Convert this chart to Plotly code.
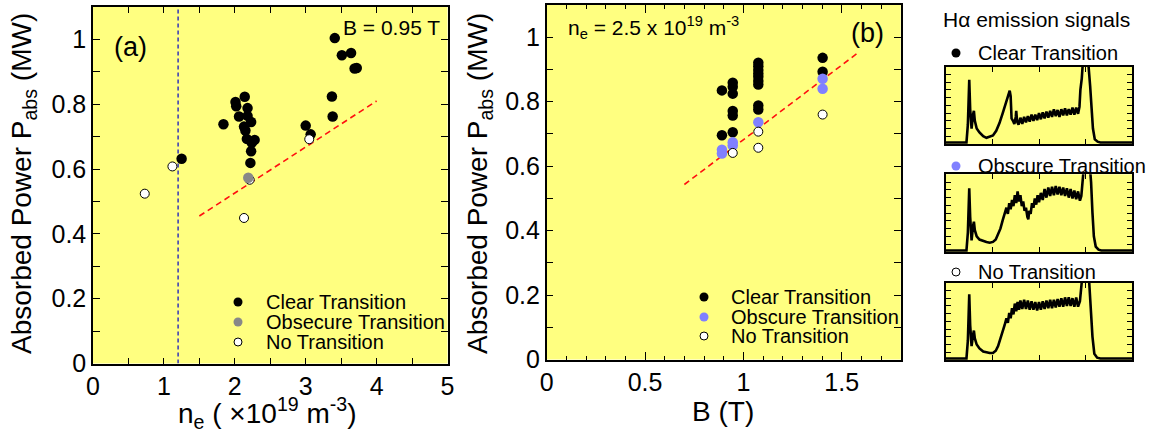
import plotly.graph_objects as go

W, H = 1149, 432
FONT = "Liberation Sans, Arial, sans-serif"
YEL = "#ffff80"

# ---------------- panel (a): P_abs vs n_e, B = 0.95 T ----------------
a_clear_x = [3.41, 3.51, 3.64, 3.69, 3.72, 3.37, 3.38, 3.00, 3.07, 1.84, 2.01, 2.02, 2.14,
             2.18, 2.06, 2.18, 2.23, 2.13, 2.15, 2.17, 2.28, 2.24, 2.23, 2.22, 1.25]
a_clear_y = [1.004, 0.951, 0.958, 0.910, 0.912, 0.824, 0.762, 0.734, 0.707, 0.738, 0.807, 0.794, 0.823,
             0.788, 0.762, 0.764, 0.745, 0.731, 0.719, 0.693, 0.690, 0.681, 0.655, 0.619, 0.632]
a_obs_x = [2.19]
a_obs_y = [0.573]
a_no_x = [3.05, 2.21, 1.12, 0.73, 2.13]
a_no_y = [0.692, 0.567, 0.608, 0.524, 0.449]
a_fit_x = [1.5, 4.0]
a_fit_y = [0.455, 0.81]
a_cut_x = [1.2, 1.2]
a_cut_y = [0.0, 1.1]

# ---------------- panel (b): P_abs vs B, n_e = 2.5e19 ----------------
b_clear_x = [0.891, 0.891, 0.946, 0.946, 0.946, 0.946, 0.946, 0.946, 1.076, 1.076, 1.076, 1.076,
             1.076, 1.076, 1.076, 1.076, 1.076, 1.403, 1.403]
b_clear_y = [0.835, 0.696, 0.859, 0.846, 0.825, 0.771, 0.757, 0.705, 0.921, 0.910, 0.898, 0.887,
             0.877, 0.864, 0.853, 0.788, 0.776, 0.936, 0.893]
b_obs_x = [0.891, 0.891, 0.946, 0.946, 1.076, 1.403, 1.403]
b_obs_y = [0.651, 0.639, 0.674, 0.664, 0.736, 0.871, 0.840]
b_no_x = [0.946, 1.076, 1.076, 1.403]
b_no_y = [0.641, 0.707, 0.657, 0.760]
b_fit_x = [0.70, 1.59]
b_fit_y = [0.543, 0.955]

# ---------------- H-alpha emission signals ----------------
c_t = [0.00, 0.44, 0.47, 0.50, 0.52, 0.55, 0.58, 0.60, 0.62, 0.66, 0.72, 0.80, 0.87, 0.94, 1.01,
       1.08, 1.15, 1.22, 1.28, 1.33, 1.37, 1.39, 1.41, 1.44, 1.47, 1.50, 1.51, 1.53, 1.56, 1.60,
       1.64, 1.68, 1.72, 1.76, 1.80, 1.84, 1.88, 1.92, 1.96, 2.00, 2.04, 2.08, 2.12, 2.16, 2.20,
       2.24, 2.28, 2.32, 2.36, 2.40, 2.44, 2.48, 2.52, 2.56, 2.60, 2.64, 2.68, 2.72, 2.76, 2.80,
       2.84, 2.87, 2.89, 2.92, 2.94, 2.96, 3.02, 3.06, 3.10, 3.13, 3.16, 3.20, 3.26, 3.32, 4.00]
c_y = [0.02, 0.02, 0.25, 0.83, 0.45, 0.20, 0.38, 0.43, 0.30, 0.20, 0.15, 0.10, 0.08, 0.09, 0.11,
       0.17, 0.27, 0.40, 0.52, 0.60, 0.69, 0.62, 0.33, 0.30, 0.26, 0.35, 0.43, 0.29, 0.25, 0.34,
       0.26, 0.35, 0.28, 0.36, 0.29, 0.38, 0.30, 0.38, 0.31, 0.40, 0.32, 0.41, 0.33, 0.42, 0.34,
       0.43, 0.35, 0.45, 0.36, 0.44, 0.35, 0.45, 0.37, 0.46, 0.37, 0.45, 0.38, 0.47, 0.38, 0.47,
       0.39, 0.48, 0.70, 0.85, 1.05, 1.20, 1.20, 1.05, 0.75, 0.45, 0.20, 0.06, 0.03, 0.02, 0.02]

o_t = [0.00, 0.44, 0.47, 0.50, 0.52, 0.55, 0.58, 0.60, 0.62, 0.66, 0.72, 0.80, 0.87, 0.94, 1.01,
       1.07, 1.12, 1.17, 1.22, 1.26, 1.30, 1.33, 1.36, 1.39, 1.42, 1.45, 1.48, 1.51, 1.54, 1.57,
       1.60, 1.63, 1.66, 1.69, 1.72, 1.75, 1.77, 1.79, 1.82, 1.85, 1.88, 1.91, 1.94, 1.97, 2.00,
       2.04, 2.08, 2.12, 2.16, 2.20, 2.24, 2.28, 2.32, 2.36, 2.40, 2.44, 2.48, 2.52, 2.56, 2.60,
       2.64, 2.68, 2.72, 2.76, 2.80, 2.84, 2.88, 2.91, 2.93, 2.95, 2.98, 3.08, 3.12, 3.15, 3.18,
       3.22, 3.28, 3.34, 4.00]
o_y = [0.02, 0.02, 0.25, 0.82, 0.45, 0.15, 0.33, 0.39, 0.28, 0.20, 0.16, 0.14, 0.13, 0.12, 0.13,
       0.16, 0.22, 0.30, 0.41, 0.48, 0.57, 0.49, 0.63, 0.55, 0.67, 0.59, 0.73, 0.63, 0.78, 0.65,
       0.73, 0.59, 0.65, 0.53, 0.57, 0.45, 0.42, 0.53, 0.49, 0.63, 0.57, 0.69, 0.61, 0.73, 0.64,
       0.76, 0.67, 0.81, 0.70, 0.83, 0.72, 0.84, 0.73, 0.85, 0.74, 0.84, 0.73, 0.83, 0.72, 0.82,
       0.70, 0.81, 0.69, 0.79, 0.68, 0.78, 0.66, 0.72, 0.90, 1.05, 1.20, 1.20, 0.90, 0.50, 0.20,
       0.07, 0.03, 0.02, 0.02]

n_t = [0.00, 0.44, 0.47, 0.50, 0.52, 0.55, 0.58, 0.60, 0.62, 0.66, 0.72, 0.80, 0.87, 0.94, 1.01,
       1.07, 1.12, 1.17, 1.22, 1.26, 1.30, 1.33, 1.36, 1.39, 1.42, 1.45, 1.48, 1.51, 1.54, 1.57,
       1.60, 1.64, 1.68, 1.72, 1.76, 1.80, 1.84, 1.88, 1.92, 1.96, 2.00, 2.04, 2.08, 2.12, 2.16,
       2.20, 2.24, 2.28, 2.32, 2.36, 2.40, 2.44, 2.48, 2.52, 2.56, 2.60, 2.64, 2.68, 2.72, 2.76,
       2.80, 2.84, 2.88, 2.91, 2.93, 2.95, 3.04, 3.08, 3.12, 3.15, 3.19, 3.25, 3.32, 4.00]
n_y = [0.02, 0.02, 0.25, 0.85, 0.45, 0.18, 0.32, 0.38, 0.28, 0.20, 0.15, 0.11, 0.10, 0.09, 0.09,
       0.12, 0.18, 0.27, 0.38, 0.45, 0.54, 0.48, 0.61, 0.54, 0.67, 0.59, 0.73, 0.63, 0.75, 0.65,
       0.77, 0.66, 0.78, 0.66, 0.77, 0.65, 0.76, 0.65, 0.75, 0.64, 0.75, 0.65, 0.76, 0.66, 0.77,
       0.67, 0.78, 0.67, 0.78, 0.68, 0.79, 0.69, 0.80, 0.69, 0.81, 0.70, 0.81, 0.70, 0.80, 0.69,
       0.81, 0.69, 0.76, 0.90, 1.05, 1.20, 1.20, 1.00, 0.60, 0.30, 0.08, 0.03, 0.02, 0.02]

legend_labels_a = ["Clear Transition", "Obsecure Transition", "No Transition"]
legend_labels_b = ["Clear Transition", "Obscure Transition", "No Transition"]

# ---------------- helpers ----------------
def px_x(p):
    return p / W

def px_y(p):
    return (H - p) / H

fig = go.Figure()

def dots(x, y, xa, ya, color, size=10, line_color=None):
    fig.add_trace(go.Scatter(
        x=x, y=y, xaxis=xa, yaxis=ya, mode="markers", showlegend=False,
        marker=dict(size=size, color=color,
                    line=dict(width=1 if line_color else 0, color=line_color or color)),
        cliponaxis=False))

# panel a
fig.add_trace(go.Scatter(x=a_cut_x, y=a_cut_y, xaxis="x", yaxis="y", mode="lines", showlegend=False,
                         line=dict(color="#0000c8", width=1.2, dash="4px,3px")))
fig.add_trace(go.Scatter(x=a_fit_x, y=a_fit_y, xaxis="x", yaxis="y", mode="lines", showlegend=False,
                         line=dict(color="#ff1010", width=1.6, dash="6px,4px")))
dots(a_clear_x, a_clear_y, "x", "y", "black", 10.5)
dots(a_no_x, a_no_y, "x", "y", "white", 9, "black")
dots(a_obs_x, a_obs_y, "x", "y", "#888888", 10.5)

# panel b
fig.add_trace(go.Scatter(x=b_fit_x, y=b_fit_y, xaxis="x2", yaxis="y2", mode="lines", showlegend=False,
                         line=dict(color="#ff1010", width=1.6, dash="6px,4px")))
dots(b_clear_x, b_clear_y, "x2", "y2", "black", 10.5)
dots(b_obs_x, b_obs_y, "x2", "y2", "#8080ff", 10.5)
dots(b_no_x, b_no_y, "x2", "y2", "white", 9, "black")

# insets
for t, y, k in [(c_t, c_y, 3), (o_t, o_y, 4), (n_t, n_y, 5)]:
    fig.add_trace(go.Scatter(x=t, y=y, xaxis=f"x{k}", yaxis=f"y{k}", mode="lines", showlegend=False,
                             line=dict(color="black", width=2.6)))

tickfont = dict(family=FONT, size=25, color="black")

def axis_common(**kw):
    d = dict(showline=True, linecolor="black", linewidth=1.5, mirror="ticks", ticks="inside",
             tickcolor="black", tickwidth=1.2, showgrid=False, zeroline=False, tickfont=tickfont,
             automargin=False)
    d.update(kw)
    return d

def minor(dt, ln):
    return dict(dtick=dt, tick0=0, ticks="inside", ticklen=ln, tickcolor="black",
                tickwidth=1.2, showgrid=False)

inset_x = [px_x(946), px_x(1132)]
inset_rows = [(66.7, 144), (174.3, 252), (282.7, 360)]

layout = dict(
    width=W, height=H, margin=dict(l=0, r=0, t=0, b=0, autoexpand=False),
    paper_bgcolor="white", plot_bgcolor=YEL, showlegend=False,
    font=dict(family=FONT, color="black"),
    xaxis=axis_common(domain=[px_x(93), px_x(447.5)], range=[0, 5], anchor="y",
                      tickmode="linear", tick0=0, dtick=1, ticklen=6, minor=minor(0.5, 6)),
    yaxis=axis_common(domain=[px_y(363.5), px_y(7)], range=[0, 1.1], anchor="x",
                      tickvals=[0, 0.2, 0.4, 0.6, 0.8, 1.0], ticktext=["0", "0.2", "0.4", "0.6", "0.8", "1"],
                      ticklen=7, minor=minor(0.1, 7)),
    xaxis2=axis_common(domain=[px_x(546.7), px_x(900.7)], range=[0, 1.8], anchor="y2",
                       tickvals=[0, 0.5, 1, 1.5], ticktext=["0", "0.5", "1", "1.5"], ticklen=8,
                       minor=minor(0.1, 4)),
    yaxis2=axis_common(domain=[px_y(359.5), px_y(5)], range=[0, 1.1], anchor="x2",
                       tickvals=[0, 0.2, 0.4, 0.6, 0.8, 1.0], ticktext=["0", "0.2", "0.4", "0.6", "0.8", "1"],
                       ticklen=7, minor=minor(0.1, 7)),
)
for i, (top, bot) in enumerate(inset_rows):
    k = i + 3
    layout[f"xaxis{k}"] = axis_common(domain=inset_x, range=[0, 4], anchor=f"y{k}",
                                      tickvals=[1, 2, 3], ticklen=5, showticklabels=False,
                                      linewidth=2)
    layout[f"yaxis{k}"] = axis_common(domain=[px_y(bot), px_y(top)], range=[0, 1], anchor=f"x{k}",
                                      tickvals=[0.1, 0.2, 0.3, 0.4, 0.5, 0.6, 0.7, 0.8, 0.9],
                                      ticklen=5, showticklabels=False, linewidth=2)
fig.update_layout(**layout)

ann = []
shapes = []

def text(s, x, y, size, xanchor="left", angle=0):
    ann.append(dict(text=s, x=px_x(x), y=px_y(y), xref="paper", yref="paper", showarrow=False,
                    xanchor=xanchor, yanchor="middle", textangle=angle,
                    font=dict(family=FONT, size=size, color="black")))

def circle(x, y, r, fill, line=None):
    shapes.append(dict(type="circle", xref="paper", yref="paper", xsizemode="pixel",
                       ysizemode="pixel", xanchor=px_x(x), yanchor=px_y(y),
                       x0=-r, x1=r, y0=-r, y1=r, fillcolor=fill,
                       line=dict(color=line or fill, width=1 if line else 0), layer="above"))

# axis titles
ytitle = "Absorbed Power P<sub>abs</sub> (MW)"
text(ytitle, 23, 184, 28, "center", -90)
text(ytitle, 479, 184, 28, "center", -90)
text("n<sub>e</sub> ( \u00d710<sup>19</sup> m<sup>-3</sup>)", 267, 413, 28, "center")
text("B (T)", 723, 411, 28, "center")

# panel labels
text("(a)", 130, 47, 27, "center")
text("B = 0.95 T", 442, 27, 21, "right")
text("n<sub>e</sub> = 2.5 x 10<sup>19</sup> m<sup>-3</sup>", 566, 28, 21, "left")
text("(b)", 867, 33, 27, "center")

# legend a
la_y = [302, 322, 342]
circle(238, la_y[0], 4.5, "black")
circle(238, la_y[1], 4.5, "#888888")
circle(238, la_y[2], 4, "white", "black")
for lbl, yy in zip(legend_labels_a, la_y):
    text(lbl, 264, yy, 20)

# legend b
lb_y = [297, 317, 336]
circle(704, lb_y[0], 4.5, "black")
circle(704, lb_y[1], 4.5, "#8080ff")
circle(704, lb_y[2], 4, "white", "black")
for lbl, yy in zip(legend_labels_b, lb_y):
    text(lbl, 729, yy, 20)

# right-side labels
text("H\u03b1 emission signals", 941, 19, 21, "left")
lr_y = [53, 166, 272]
circle(956, lr_y[0], 4.5, "black")
circle(956, lr_y[1], 4.5, "#8080ff")
circle(956, lr_y[2], 4, "white", "black")
for lbl, yy in zip(legend_labels_b, lr_y):
    text(lbl, 976, yy, 20)

fig.update_layout(annotations=ann, shapes=shapes)
fig.write_html("out.html", config={"displayModeBar": False},
               post_script="document.body.style.margin='0';document.body.style.overflow='hidden';")
